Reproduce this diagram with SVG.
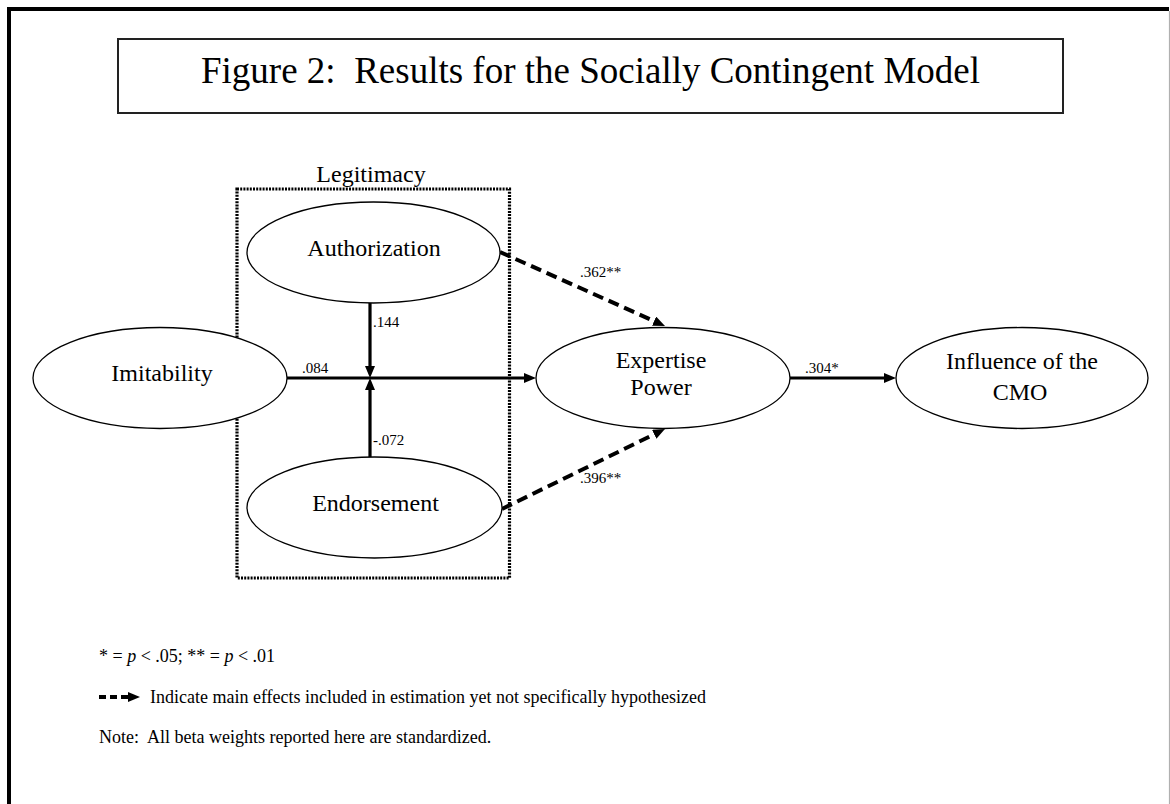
<svg xmlns="http://www.w3.org/2000/svg" width="1170" height="804" viewBox="0 0 1170 804">
  <style>
    text { font-family: "Liberation Serif", "Times New Roman", serif; fill: #000; }
    .title { font-size: 37px; white-space: pre; }
    .node-label { font-size: 24px; text-anchor: middle; }
    .coef { font-size: 15px; }
    .legend { font-size: 18px; white-space: pre; }
    .node { fill: #fff; stroke: #000; stroke-width: 1.3; }
    .solid { fill: none; stroke: #000; stroke-width: 3.2; }
    .dashed { fill: none; stroke: #000; stroke-width: 4; stroke-dasharray: 11 6; }
  </style>
  <defs>
    <marker id="head" markerUnits="userSpaceOnUse" markerWidth="12" markerHeight="10" refX="2" refY="5" orient="auto">
      <path d="M0,0 L12,5 L0,10 Z" fill="#000"/>
    </marker>
  </defs>

  <rect width="1170" height="804" fill="#fff"/>

  <!-- page frame -->
  <path d="M9,804 V9 H1169" fill="none" stroke="#000" stroke-width="4"/>
  <line x1="1169.5" y1="11" x2="1169.5" y2="804" stroke="#b0b0b0" stroke-width="1.2"/>

  <!-- title -->
  <g id="title">
    <rect x="118" y="39" width="945" height="74" fill="#fff" stroke="#222" stroke-width="2"/>
    <text class="title" x="590.5" y="83" text-anchor="middle">Figure 2:  Results for the Socially Contingent Model</text>
  </g>

  <!-- legitimacy grouping -->
  <g id="legitimacy">
    <rect x="237" y="189" width="272.5" height="389" fill="none" stroke="#000" stroke-width="3.2" stroke-dasharray="2 1.2"/>
    <text class="node-label" x="371" y="182">Legitimacy</text>
  </g>

  <!-- connectors -->
  <g id="connectors">
    <line class="solid" x1="287" y1="378" x2="526" y2="378" marker-end="url(#head)"/>
    <line class="solid" x1="370" y1="303" x2="370" y2="368" marker-end="url(#head)"/>
    <line class="solid" x1="370" y1="457" x2="370" y2="388" marker-end="url(#head)"/>
    <line class="dashed" x1="500" y1="252" x2="655.9" y2="321.9" marker-end="url(#head)"/>
    <line class="dashed" x1="502" y1="509" x2="656" y2="433.4" marker-end="url(#head)"/>
    <line class="solid" x1="790" y1="378" x2="886" y2="378" marker-end="url(#head)"/>

    <text class="coef" x="373" y="327">.144</text>
    <text class="coef" x="302" y="373">.084</text>
    <text class="coef" x="373" y="445">-.072</text>
    <text class="coef" x="580" y="277">.362**</text>
    <text class="coef" x="580" y="483">.396**</text>
    <text class="coef" x="805" y="373">.304*</text>
  </g>

  <!-- nodes -->
  <g id="authorization">
    <ellipse class="node" cx="373.5" cy="252.5" rx="126.5" ry="50.5"/>
    <text class="node-label" x="374" y="256">Authorization</text>
  </g>
  <g id="endorsement">
    <ellipse class="node" cx="374.5" cy="507.5" rx="127.5" ry="50.5"/>
    <text class="node-label" x="375.5" y="511">Endorsement</text>
  </g>
  <g id="imitability">
    <ellipse class="node" cx="160" cy="378" rx="127" ry="50.5"/>
    <text class="node-label" x="162" y="381">Imitability</text>
  </g>
  <g id="expertise-power">
    <ellipse class="node" cx="663" cy="378" rx="127" ry="50.5"/>
    <text class="node-label" x="661" y="368">Expertise</text>
    <text class="node-label" x="661" y="395">Power</text>
  </g>
  <g id="influence-cmo">
    <ellipse class="node" cx="1022" cy="378" rx="126" ry="50.5"/>
    <text class="node-label" x="1022" y="369">Influence of the</text>
    <text class="node-label" x="1020" y="400">CMO</text>
  </g>

  <!-- key -->
  <g id="legend">
    <text class="legend" x="99" y="662">* = <tspan font-style="italic">p</tspan> &lt; .05; ** = <tspan font-style="italic">p</tspan> &lt; .01</text>
    <line x1="99" y1="697" x2="130" y2="697" stroke="#000" stroke-width="4" stroke-dasharray="7 4" marker-end="url(#head)"/>
    <text class="legend" x="150" y="703">Indicate main effects included in estimation yet not specifically hypothesized</text>
    <text class="legend" x="99" y="743">Note:  All beta weights reported here are standardized.</text>
  </g>
</svg>
